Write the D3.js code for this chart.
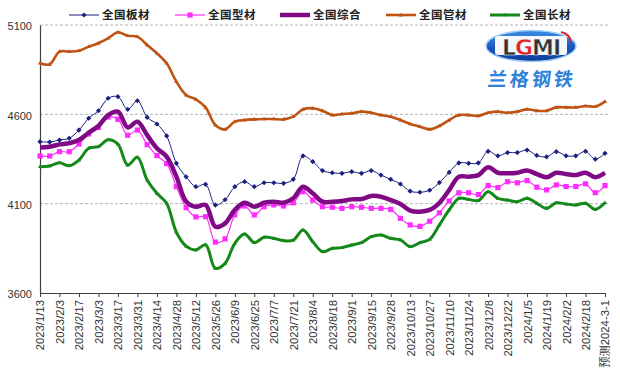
<!DOCTYPE html>
<html><head><meta charset="utf-8">
<script src="https://cdn.jsdelivr.net/npm/d3@7"></script>
<style>body{margin:0;background:#fff}</style>
</head><body><svg id="c" width="620" height="376"></svg>
<script>
const tickLabels = ["2023/1/13","2023/2/3","2023/2/17","2023/3/3","2023/3/17","2023/3/31","2023/4/14","2023/4/28","2023/5/12","2023/5/26","2023/6/9","2023/6/25","2023/7/7","2023/7/21","2023/8/4","2023/8/18","2023/9/1","2023/9/15","2023/9/28","2023/10/13","2023/10/27","2023/11/10","2023/11/24","2023/12/8","2023/12/22","2024/1/5","2024/1/19","2024/2/2","2024/2/18","预测2024-3-1"];
const seriesNames = ["全国板材","全国型材","全国综合","全国管材","全国长材"];
const plate = [4447,4445,4456,4466,4512,4578,4620,4690,4699,4628,4676,4583,4546,4479,4326,4250,4195,4208,4092,4122,4195,4223,4195,4217,4217,4214,4236,4367,4335,4285,4273,4270,4279,4270,4285,4260,4236,4210,4170,4164,4175,4218,4275,4328,4326,4328,4393,4368,4386,4386,4400,4370,4362,4391,4368,4368,4393,4349,4382];
const section = [4367,4367,4391,4391,4434,4490,4527,4585,4572,4483,4512,4430,4369,4324,4195,4078,4026,4027,3885,3903,4037,4087,4037,4083,4093,4087,4105,4167,4120,4083,4080,4074,4083,4080,4074,4074,4068,4018,3981,3973,4002,4049,4115,4161,4161,4151,4201,4190,4223,4217,4229,4192,4177,4205,4196,4196,4211,4161,4201];
const composite = [4415,4419,4432,4438,4456,4497,4535,4596,4615,4527,4559,4484,4410,4363,4251,4112,4083,4093,3971,3990,4065,4105,4083,4105,4111,4105,4130,4195,4158,4111,4111,4115,4124,4126,4143,4139,4120,4098,4061,4055,4065,4105,4176,4251,4251,4260,4304,4273,4270,4273,4285,4266,4248,4273,4266,4260,4273,4248,4273];
const pipe = [4886,4880,4951,4951,4956,4979,4998,5026,5059,5040,5035,4988,4942,4886,4783,4708,4684,4639,4540,4516,4559,4568,4572,4574,4574,4572,4587,4628,4634,4620,4596,4602,4606,4615,4609,4596,4587,4568,4546,4531,4516,4535,4568,4596,4596,4591,4609,4615,4609,4615,4628,4620,4620,4639,4639,4639,4647,4643,4671];
const longs = [4307,4311,4329,4312,4344,4410,4419,4458,4433,4316,4360,4232,4158,4102,3940,3862,3841,3870,3738,3766,3878,3930,3882,3912,3906,3893,3896,3953,3887,3831,3850,3854,3869,3882,3915,3925,3906,3897,3859,3882,3900,3981,4065,4130,4124,4117,4167,4130,4120,4111,4130,4102,4074,4105,4098,4093,4102,4068,4105];
const yTicks = [3600,4100,4600,5100];

const svg = d3.select("#c");
const n = plate.length;
const x = d3.scalePoint().domain(d3.range(n)).range([40,605]);
const y = d3.scaleLinear().domain([3600,5100]).range([293,25]);
const axisColor = "#404040";
const font = "'Liberation Sans', Arial, 'Noto Sans CJK SC', sans-serif";

// gridlines
svg.append("g").selectAll("line").data(yTicks.filter(v=>v>3600)).join("line")
  .attr("x1",40).attr("x2",610).attr("y1",d=>y(d)).attr("y2",d=>y(d))
  .attr("stroke","#b4b4b4").attr("stroke-width",1).attr("stroke-dasharray","3,2");

// y axis
const ya = svg.append("g").attr("transform","translate(40,0)")
  .call(d3.axisLeft(y).tickValues(yTicks).tickSize(0).tickPadding(8).tickFormat(d3.format("d")));
ya.select(".domain").attr("stroke",axisColor).attr("stroke-width",1.2);
ya.selectAll("text").attr("font-family",font).attr("font-size",11).attr("fill","#333").attr("dy","0.45em");

// x axis
const evenIdx = d3.range(0,n,2);
const xa = svg.append("g").attr("transform","translate(0,293)")
  .call(d3.axisBottom(x).tickValues(evenIdx).tickFormat(i=>tickLabels[i/2]).tickSize(4).tickSizeOuter(0));
xa.select(".domain").attr("stroke",axisColor).attr("stroke-width",1.2);
xa.selectAll(".tick line").attr("stroke",axisColor);
xa.selectAll("text").attr("font-family",font).attr("font-size",11.3).attr("fill","#333")
  .attr("transform","rotate(-90)").attr("text-anchor","end").attr("x",-7).attr("y",0).attr("dy","0.35em");

const curve = d3.curveCatmullRom.alpha(0.5);
const line = d3.line().x((d,i)=>x(i)).y(d=>y(d)).curve(curve);

const diamond = s => `M0,${-s}L${s},0L0,${s}L${-s},0Z`;
const square = s => `M${-s},${-s}H${s}V${s}H${-s}Z`;
const tri = s => `M0,${-s}L${s*0.95},${s*0.6}L${-s*0.95},${s*0.6}Z`;

const series = [
  {name:seriesNames[0], data:plate, color:"#1b1f7e", w:1, marker:diamond(2.6)},
  {name:seriesNames[1], data:section, color:"#ff2cff", w:1.2, marker:square(2.6)},
  {name:seriesNames[2], data:composite, color:"#800a86", w:4.5, marker:null},
  {name:seriesNames[3], data:pipe, color:"#bf5314", w:2.6, marker:tri(2.3)},
  {name:seriesNames[4], data:longs, color:"#14891a", w:3, marker:tri(2.2)}
];

series.forEach(s=>{
  const g = svg.append("g");
  g.append("path").attr("d",line(s.data)).attr("fill","none")
    .attr("stroke",s.color).attr("stroke-width",s.w).attr("stroke-linejoin","round");
  if(s.marker){
    g.selectAll("path.m").data(s.data).join("path").attr("class","m")
      .attr("transform",(d,i)=>`translate(${x(i)},${y(d)})`)
      .attr("d",s.marker).attr("fill",s.color);
  }
});

// legend
const legX = [69,175,280,386,490];
const lg = svg.append("g");
series.forEach((s,k)=>{
  const lx = legX[k], ly = 15;
  lg.append("line").attr("x1",lx).attr("x2",lx+30).attr("y1",ly).attr("y2",ly)
    .attr("stroke",s.color).attr("stroke-width",s.w);
  if(s.marker) lg.append("path").attr("transform",`translate(${lx+15},${ly})`).attr("d",s.marker).attr("fill",s.color);
  lg.append("text").attr("x",lx+33).attr("y",ly).attr("dy","0.36em").text(s.name)
    .attr("font-family","'Noto Sans CJK SC', sans-serif").attr("font-weight","bold")
    .attr("font-size",11.5).attr("fill","#222").attr("letter-spacing",0.5);
});

// logo
const defs = svg.append("defs");
const gr = defs.append("linearGradient").attr("id","lg").attr("x1",0).attr("y1",0).attr("x2",0).attr("y2",1);
gr.append("stop").attr("offset","0%").attr("stop-color","#3f8ee8");
gr.append("stop").attr("offset","55%").attr("stop-color","#1a56bf");
gr.append("stop").attr("offset","100%").attr("stop-color","#0d3c9a");
const logo = svg.append("g");
logo.append("ellipse").attr("cx",531).attr("cy",46).attr("rx",45).attr("ry",15.5)
  .attr("fill","url(#lg)").attr("stroke","#9fcdf6").attr("stroke-width",1.5);
logo.append("rect").attr("x",495).attr("y",36).attr("width",72).attr("height",19).attr("rx",3).attr("fill","#f4f8fd");
const lt = logo.append("text").attr("x",531).attr("y",55).attr("text-anchor","middle")
  .attr("font-family","'DejaVu Sans', sans-serif").attr("font-weight","bold").attr("font-size",22)
  .attr("stroke","#fff").attr("stroke-width",0.5).attr("letter-spacing",-1);
lt.append("tspan").text("L").attr("fill","#333");
lt.append("tspan").text("G").attr("fill","#e0242a");
lt.append("tspan").text("MI").attr("fill","#333");
logo.append("path").attr("d","M561,32 Q570,34 571,42").attr("fill","none").attr("stroke","#e0242a").attr("stroke-width",2);
logo.append("text").attr("x",532).attr("y",86).attr("text-anchor","middle")
  .attr("font-family","'Noto Sans CJK SC', sans-serif").attr("font-weight","bold").attr("font-size",19)
  .attr("fill","#2f82da").attr("letter-spacing",3).attr("transform","skewX(-8) translate(11,0)")
  .text("兰格钢铁");
</script>
</body></html>
